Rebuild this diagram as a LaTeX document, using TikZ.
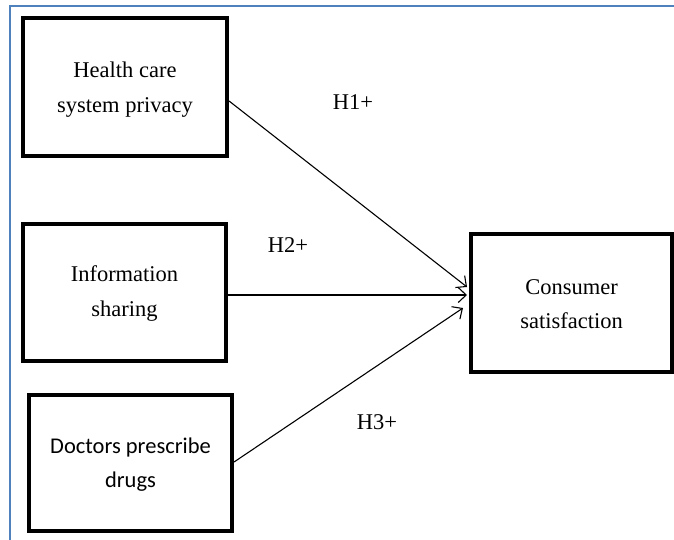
\documentclass[tikz,border=0pt]{standalone}
\usepackage{fontspec}
\setmainfont{Liberation Serif}
\newfontfamily\calib{Carlito}
\usetikzlibrary{arrows.meta}
\definecolor{frameblue}{RGB}{79,129,189}
\begin{document}
\begin{tikzpicture}[x=1pt,y=-1pt,
  box/.style={draw,line width=3.6pt,rectangle,inner sep=0pt,align=center,
    font=\fontsize{22.5}{35}\selectfont},
  arr/.style={line width=1.1pt,-{Straight Barb[length=8pt,width=15pt,line width=1.1pt]}},
  hlab/.style={font=\fontsize{22.5}{27}\selectfont}]
\useasboundingbox (0,0) rectangle (674,540);
\draw[frameblue,line width=2pt] (10,540) -- (10,6) -- (674,6);
\node[box,minimum width=204.5pt,minimum height=138.5pt] (hc) at (125,87) {};
\node[font=\fontsize{22.5}{35}\selectfont,align=center] (hct) at (125,89.5) {Health care\\system privacy};
\node[box,minimum width=203.5pt,minimum height=137.5pt] (is) at (124.5,292.5) {};
\node[font=\fontsize{22.5}{35}\selectfont,align=center] (ist) at (124.5,293.5) {Information\\sharing};
\node[box,minimum width=203.5pt,minimum height=136.5pt] (dp) at (130.5,463) {};
\node[font=\calib\fontsize{22.5}{34}\selectfont,align=center] (dpt) at (130.5,465) {Doctors prescribe\\drugs};
\node[box,minimum width=201.5pt,minimum height=137.5pt] (cs) at (571.5,303) {};
\node[font=\fontsize{22.5}{34}\selectfont,align=center] (cst) at (571.5,304) {Consumer\\satisfaction};
\coordinate (t1) at (467,287);
\coordinate (t2) at (467,295);
\coordinate (t3) at (463,308);
\draw[arr] ([yshift=-14pt]hc.east) -- (t1);
\draw[arr] ([yshift=-2.5pt]is.east) -- (t2);
\draw[arr] ([yshift=1pt]dp.east) -- (t3);
\node[hlab] (h1) at (353,102) {H1+};
\node[hlab] (h2) at (288,245) {H2+};
\node[hlab] (h3) at (377,422) {H3+};
\end{tikzpicture}
\end{document}
